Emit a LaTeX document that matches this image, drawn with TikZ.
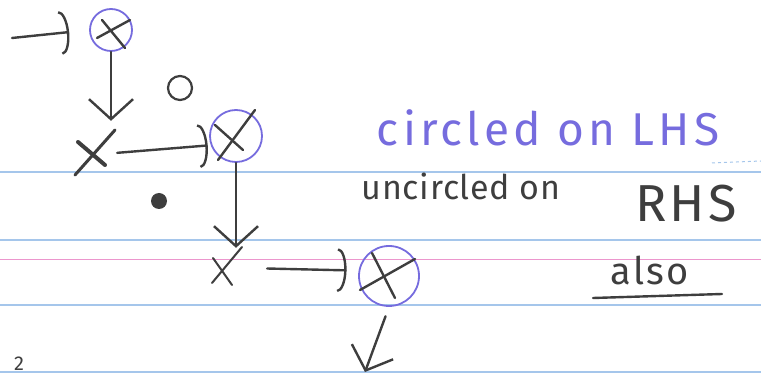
\documentclass[tikz,border=0pt]{standalone}
\usepackage{fontspec}
\setmainfont{Fira Sans}
\usetikzlibrary{arrows.meta,calc}
\definecolor{penblue}{RGB}{118,108,222}
\definecolor{pengray}{RGB}{62,62,62}
\definecolor{ruleblue}{RGB}{165,198,235}
\definecolor{rulepink}{RGB}{236,150,205}
\tikzset{
  pen/.style={pengray,line width=2.4pt,line cap=round},
  ring/.style={circle,draw=penblue,line width=1.8pt,inner sep=0pt},
  xmark/.style={inner sep=0pt,minimum size=40pt},
  chevron/.style={-{Straight Barb[length=20pt,width=44pt]}},
  hook/.style={-{Arc Barb[length=9pt,width=44pt]}}
}
\begin{document}
\begin{tikzpicture}[x=1pt,y=-1pt]
\useasboundingbox (0,0) rectangle (761,379);
\draw[ruleblue,line width=1.2pt] (0,172) -- (761,172);
\draw[ruleblue,line width=1.2pt] (0,240) -- (761,240);
\draw[ruleblue,line width=1.2pt] (0,305) -- (761,305);
\draw[ruleblue,line width=1.2pt] (0,372) -- (761,372);
\draw[rulepink,line width=1pt] (0,260) -- (761,260);
\draw[ruleblue,dashed,line width=1pt] (712,163) -- (761,161);

\node[ring,minimum size=42pt] (c1) at (111,30) {};
\node[xmark] (x2) at (95,153) {};
\node[ring,minimum size=52pt] (c3) at (236,136) {};
\node[xmark] (x4) at (225,268) {};
\node[ring,minimum size=60pt] (c5) at (389,276) {};
\node[circle,draw=pengray,line width=2.2pt,minimum size=24pt] (hollow) at (180,88) {};
\node[circle,fill=pengray,minimum size=16pt] (dot) at (159,201) {};
\coordinate (in) at (12,38);
\coordinate (out) at (365,372);

\draw[pen] ($(c1)+(-9,-10)$) -- ($(c1)+(14,18)$);
\draw[pen] ($(c1)+(-14,8)$) -- ($(c1)+(19,-10)$);
\draw[pen,line width=4pt] ($(x2)+(-17,-11)$) -- ($(x2)+(10,12)$);
\draw[pen,line width=3pt] ($(x2)+(-20,22)$) -- ($(x2)+(20,-23)$);
\draw[pen] ($(c3)+(-21,-11)$) -- ($(c3)+(7,14)$);
\draw[pen] ($(c3)+(-18,24)$) -- ($(c3)+(19,-26)$);
\draw[pen,line width=2pt] ($(x4)+(-12,-10)$) -- ($(x4)+(7,17)$);
\draw[pen,line width=2pt] ($(x4)+(-13,15)$) -- ($(x4)+(17,-21)$);
\draw[pen] ($(c5)+(-17,-23)$) -- ($(c5)+(6,22)$);
\draw[pen] ($(c5)+(-29,14)$) -- ($(c5)+(26,-17)$);

\draw[pen,hook,shorten >=20pt] (in) -- (c1.west);
\draw[pen,chevron,shorten >=12pt] (c1.south) -- (c1.south |- x2.north);
\draw[pen,hook,shorten <=2pt,shorten >=3pt] (x2.east) -- (c3.200);
\draw[pen,chevron] (c3.south) -- (c3.south |- x4.north);
\draw[pen,hook,shorten <=22pt,shorten >=12pt] (x4.east) -- (c5.170);
\draw[pen,chevron,shorten <=10pt] (c5.south) -- (out);

\node[penblue,font=\fontsize{46}{52}\selectfont\addfontfeatures{LetterSpace=9}] (lhs) at (548,128) {circled on LHS};
\node[pengray,font=\fontsize{34}{40}\selectfont\addfontfeatures{LetterSpace=2}] (unc) at (461,186) {uncircled on};
\node[pengray,font=\fontsize{52}{58}\selectfont\addfontfeatures{LetterSpace=6}] (rhs) at (686,204) {RHS};
\node[pengray,font=\fontsize{38}{44}\selectfont\addfontfeatures{LetterSpace=6}] (also) at (650,270) {also};
\draw[pen] (593,298) -- (722,294);
\node[pengray,font=\fontsize{20}{24}\selectfont,inner sep=1pt] (page) at (19,364) {2};
\end{tikzpicture}
\end{document}
